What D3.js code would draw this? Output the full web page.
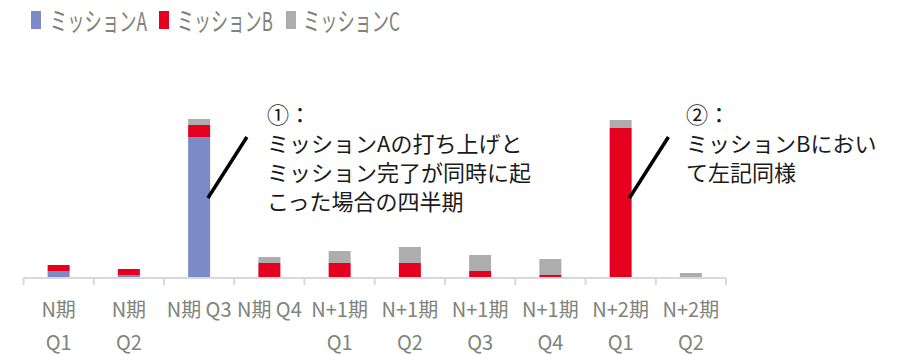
<!DOCTYPE html>
<html>
<head>
<meta charset="utf-8">
<script src="https://cdn.jsdelivr.net/npm/d3@7/dist/d3.min.js"></script>
<style>
  html, body { margin: 0; padding: 0; background: #fff; }
  svg { display: block; font-family: "Noto Sans CJK JP", "Noto Sans", sans-serif; }
</style>
</head>
<body>
<svg id="chart" width="922" height="355"></svg>
<script>
// Quarters on the x axis (each entry is drawn as one or two lines)
const categories = ["N期 Q1", "N期 Q2", "N期 Q3", "N期 Q4", "N+1期 Q1", "N+1期 Q2", "N+1期 Q3", "N+1期 Q4", "N+2期 Q1", "N+2期 Q2"];
const tickLabels = [["N期", "Q1"], ["N期", "Q2"], ["N期 Q3"], ["N期 Q4"], ["N+1期", "Q1"], ["N+1期", "Q2"], ["N+1期", "Q3"], ["N+1期", "Q4"], ["N+2期", "Q1"], ["N+2期", "Q2"]];

// Stacked series values per quarter
const seriesNames = ["ミッションA", "ミッションB", "ミッションC"];
const missionA = [7, 3, 141, 0, 0, 0, 0, 0, 0, 0];
const missionB = [6, 6, 12, 15, 15, 15, 7, 3, 150, 1];
const missionC = [0, 0, 6, 6, 12, 16, 16, 16, 8, 4];
const colors = ["#7b8bc7", "#e60020", "#adadad"];

// Callouts: quarter they point at, value on the bar where the leader starts, text lines
const notes = [
  { cat: "N期 Q3", at: 80, lines: ["①：", "ミッションAの打ち上げと", "ミッション完了が同時に起", "こった場合の四半期"] },
  { cat: "N+2期 Q1", at: 80, lines: ["②：", "ミッションBにおい", "て左記同様"] }
];

const table = categories.map((c, i) => ({
  cat: c,
  "ミッションA": missionA[i],
  "ミッションB": missionB[i],
  "ミッションC": missionC[i]
}));

const svg = d3.select("#chart");

const x = d3.scaleBand()
  .domain(categories)
  .range([23.5, 726])
  .paddingInner(0.687)
  .paddingOuter(0.3435);

const y = d3.scaleLinear().domain([0, 160]).range([278, 118]);

const stack = d3.stack().keys(seriesNames)(table);

// Bars
svg.append("g").selectAll("g")
  .data(stack)
  .join("g")
  .attr("fill", (d, i) => colors[i])
  .selectAll("rect")
  .data(d => d)
  .join("rect")
  .attr("x", d => x(d.data.cat))
  .attr("width", x.bandwidth())
  .attr("y", d => y(d[1]))
  .attr("height", d => Math.max(0, y(d[0]) - y(d[1])));

// Category axis: baseline, boundary ticks, wrapped labels
const axisColor = "#d9d9d9";
const gap = (x.step() - x.bandwidth()) / 2;
const bounds = categories.map(c => x(c) - gap).concat([x.range()[1]]);
const axis = svg.append("g");
axis.append("line")
  .attr("x1", x.range()[0]).attr("x2", x.range()[1])
  .attr("y1", y(0)).attr("y2", y(0))
  .attr("stroke", axisColor).attr("stroke-width", 2);
axis.selectAll("line.tick")
  .data(bounds)
  .join("line")
  .attr("class", "tick")
  .attr("x1", d => d).attr("x2", d => d)
  .attr("y1", y(0)).attr("y2", y(0) + 7)
  .attr("stroke", axisColor).attr("stroke-width", 2);

const labelColor = "#80837a";
axis.selectAll("text")
  .data(categories)
  .join("text")
  .attr("x", d => x(d) + x.bandwidth() / 2)
  .attr("y", 317)
  .attr("text-anchor", "middle")
  .attr("font-size", 20)
  .attr("fill", labelColor)
  .each(function(d, i) {
    const t = d3.select(this);
    tickLabels[i].forEach((ln, k) => {
      t.append("tspan")
        .attr("x", x(d) + x.bandwidth() / 2)
        .attr("dy", k === 0 ? 0 : 33)
        .text(ln);
    });
  });

// Legend (narrow, tall lettering squeezed horizontally to a fixed width)
const legendItems = [
  { sx: 31, tx: 50, len: 97 },
  { sx: 159, tx: 177, len: 96 },
  { sx: 286, tx: 303, len: 97 }
];
const legend = svg.append("g");
seriesNames.forEach((name, i) => {
  const it = legendItems[i];
  legend.append("rect")
    .attr("x", it.sx).attr("y", 11)
    .attr("width", 10).attr("height", 18)
    .attr("fill", colors[i]);
  const t = legend.append("text")
    .attr("x", 0).attr("y", 0)
    .attr("font-size", 26)
    .attr("fill", labelColor)
    .text(name);
  const natural = t.node().getComputedTextLength();
  t.attr("transform", `translate(${it.tx},30.5) scale(${it.len / natural},1)`);
});

// Callouts with leader lines
const noteX = [267, 686];
notes.forEach((n, i) => {
  const sx = x(n.cat) + x.bandwidth() * 0.9;
  const sy = y(n.at);
  svg.append("line")
    .attr("x1", sx).attr("y1", sy)
    .attr("x2", sx + 39).attr("y2", sy - 61)
    .attr("stroke", "#000").attr("stroke-width", 3.5);
  const t = svg.append("text")
    .attr("font-size", 22)
    .attr("fill", "#1a1a1a");
  n.lines.forEach((ln, k) => {
    t.append("tspan")
      .attr("x", noteX[i])
      .attr("y", 123 + k * 29)
      .text(ln);
  });
});
</script>
</body>
</html>
